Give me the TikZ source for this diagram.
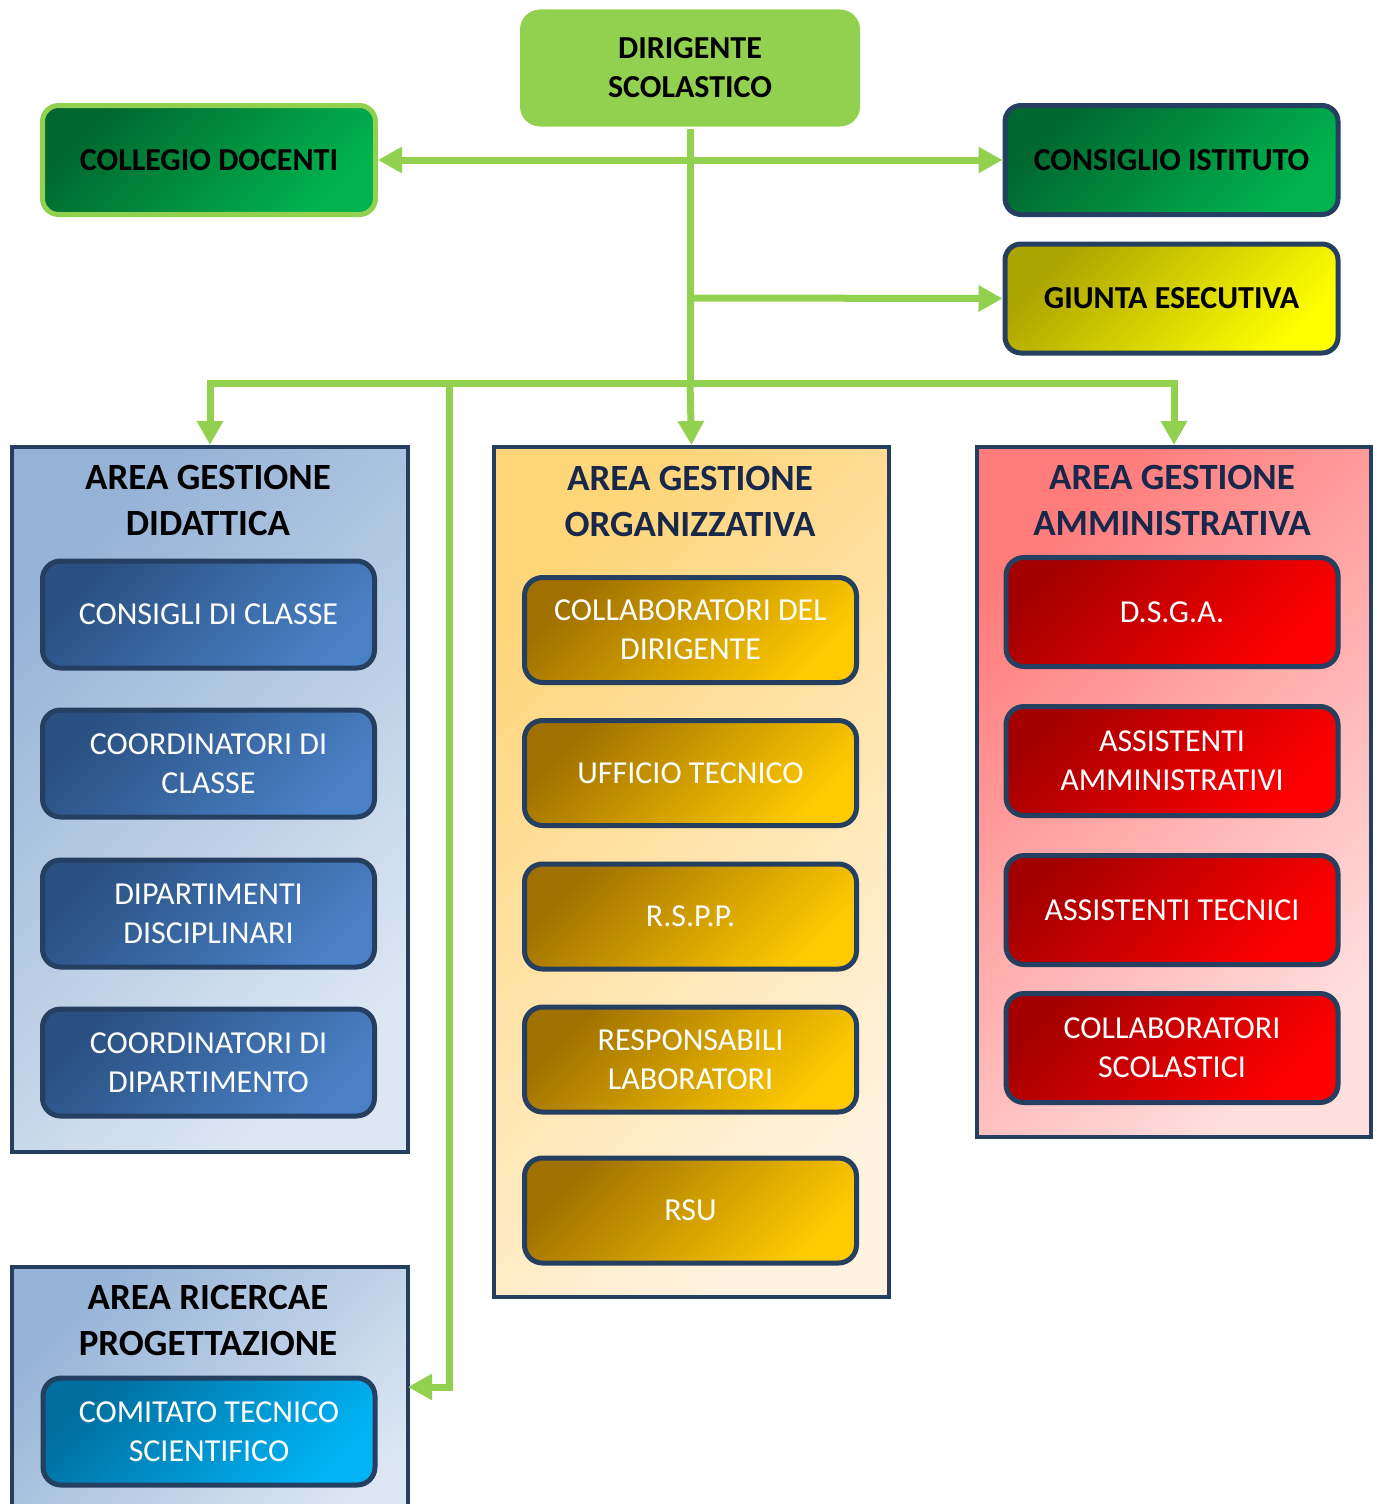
\documentclass[tikz,border=0pt]{standalone}
\usepackage{fontspec}
\setmainfont{Carlito}
\usetikzlibrary{arrows.meta,calc}
\definecolor{arrg}{HTML}{92D050}
\definecolor{navy}{HTML}{243F60}
\definecolor{ttl}{HTML}{17284A}
\definecolor{gA}{HTML}{00672F}\definecolor{gB}{HTML}{00B34F}
\definecolor{yA}{HTML}{ABA300}\definecolor{yB}{HTML}{FFFF00}
\definecolor{lbA}{HTML}{95B3D7}\definecolor{lbB}{HTML}{DDE7F3}
\definecolor{loA}{HTML}{FFD57A}\definecolor{loB}{HTML}{FFF3DF}
\definecolor{lrA}{HTML}{FF7C7C}\definecolor{lrB}{HTML}{FFDEDE}
\definecolor{bA}{HTML}{2A5081}\definecolor{bB}{HTML}{4A80C6}
\definecolor{oA}{HTML}{A07000}\definecolor{oB}{HTML}{FFCA00}
\definecolor{rA}{HTML}{A50000}\definecolor{rB}{HTML}{FF0000}
\definecolor{cA}{HTML}{006E9E}\definecolor{cB}{HTML}{00B4F5}
\tikzset{
  grad/.style 2 args={top color=#1, bottom color=#2, shading angle=45},
  arr/.style={draw=arrg, line width=7pt, -{Triangle[length=24pt,width=25pt]}},
  topbox/.style={rounded corners=16pt, line width=5pt, minimum width=333pt, minimum height=109pt, inner sep=0pt,
     font=\fontsize{32}{39}\selectfont\bfseries, align=center, text=black},
  subbox/.style={rounded corners=18pt, draw=navy, line width=5pt, minimum width=332pt, minimum height=107pt, inner sep=0pt,
     font=\fontsize{32}{39}\selectfont, align=center, text=white},
  area/.style={draw=navy, line width=4pt, anchor=north west, inner sep=0pt},
  areattl/.style={font=\fontsize{37}{46}\selectfont\bfseries, align=center, inner sep=0pt},
}
\begin{document}
\begin{tikzpicture}[x=1pt,y=-1pt]
\useasboundingbox (0,0) rectangle (1376,1504);
\clip (0,0) rectangle (1376,1504);
% top boxes
\node[topbox, fill=arrg, minimum width=340pt, minimum height=117pt, rounded corners=20pt] (dir) at (690,68) {DIRIGENTE\\SCOLASTICO};
\node[topbox, draw=arrg, grad={gA}{gB}] (col) at (209,160) {COLLEGIO DOCENTI};
\node[topbox, draw=navy, grad={gA}{gB}] (cons) at (1171.5,160) {CONSIGLIO ISTITUTO};
\node[topbox, draw=navy, grad={yA}{yB}] (giu) at (1171.5,298.5) {GIUNTA ESECUTIVA};
% areas
\node[area, grad={lbA}{lbB}, minimum width=396pt, minimum height=705pt] (did) at (10,445) {};
\node[area, grad={loA}{loB}, minimum width=395pt, minimum height=850pt] (org) at (492,445) {};
\node[area, grad={lrA}{lrB}, minimum width=394pt, minimum height=690pt] (amm) at (975,445) {};
\node[area, grad={lbA}{lbB}, minimum width=396pt, minimum height=280pt] (ric) at (10,1265) {};
% titles
\node[areattl, text=black] (tdid) at (208,500) {AREA GESTIONE\\DIDATTICA};
\node[areattl, text=ttl] (torg) at (690,501.5) {AREA GESTIONE\\ORGANIZZATIVA};
\node[areattl, text=ttl] (tamm) at (1172,500) {AREA GESTIONE\\AMMINISTRATIVA};
\node[areattl, text=black] (tric) at (208,1320.5) {AREA RICERCAE\\PROGETTAZIONE};
% didattica
\node[subbox, grad={bA}{bB}] (d1) at (208.5,614.5) {CONSIGLI DI CLASSE};
\node[subbox, grad={bA}{bB}] (d2) at (208.5,763.5) {COORDINATORI DI\\CLASSE};
\node[subbox, grad={bA}{bB}] (d3) at (208.5,913.5) {DIPARTIMENTI\\DISCIPLINARI};
\node[subbox, grad={bA}{bB}] (d4) at (208.5,1062.5) {COORDINATORI DI\\DIPARTIMENTO};
% organizzativa
\node[subbox, grad={oA}{oB}, minimum height=105pt] (o1) at (690.5,630) {COLLABORATORI DEL\\DIRIGENTE};
\node[subbox, grad={oA}{oB}, minimum height=105pt] (o2) at (690.5,773) {UFFICIO TECNICO};
\node[subbox, grad={oA}{oB}, minimum height=105pt] (o3) at (690.5,916.5) {R.S.P.P.};
\node[subbox, grad={oA}{oB}, minimum height=105pt] (o4) at (690.5,1059.5) {RESPONSABILI\\LABORATORI};
\node[subbox, grad={oA}{oB}, minimum height=105pt] (o5) at (690.5,1210.5) {RSU};
% amministrativa
\node[subbox, grad={rA}{rB}, minimum height=109pt] (a1) at (1172,612) {D.S.G.A.};
\node[subbox, grad={rA}{rB}, minimum height=109pt] (a2) at (1172,761) {ASSISTENTI\\AMMINISTRATIVI};
\node[subbox, grad={rA}{rB}, minimum height=109pt] (a3) at (1172,910) {ASSISTENTI TECNICI};
\node[subbox, grad={rA}{rB}, minimum height=109pt] (a4) at (1172,1048) {COLLABORATORI\\SCOLASTICI};
% ricerca
\node[subbox, grad={cA}{cB}] (r1) at (209,1431.5) {COMITATO TECNICO\\SCIENTIFICO};
% connectors
\coordinate (jtop) at (690,160);
\coordinate (jg) at (690,298);
\coordinate (jm) at (690,383);
\coordinate (jl) at (449,383);
\coordinate (rt) at (408,1387);
\draw[draw=arrg, line width=7pt] (dir.south) -- (jm);
\draw[draw=arrg, line width=7pt, {Triangle[length=24pt,width=25pt]}-{Triangle[length=24pt,width=25pt]}] (col.east) -- (cons.west);
\draw[arr] (jg) -- (giu.west);
\draw[arr] (jm) -- (org.north);
\draw[arr] (jm) -| (did.north);
\draw[arr] (jm) -| (amm.north);
\draw[arr] (jl) |- (rt);
\end{tikzpicture}
\end{document}
